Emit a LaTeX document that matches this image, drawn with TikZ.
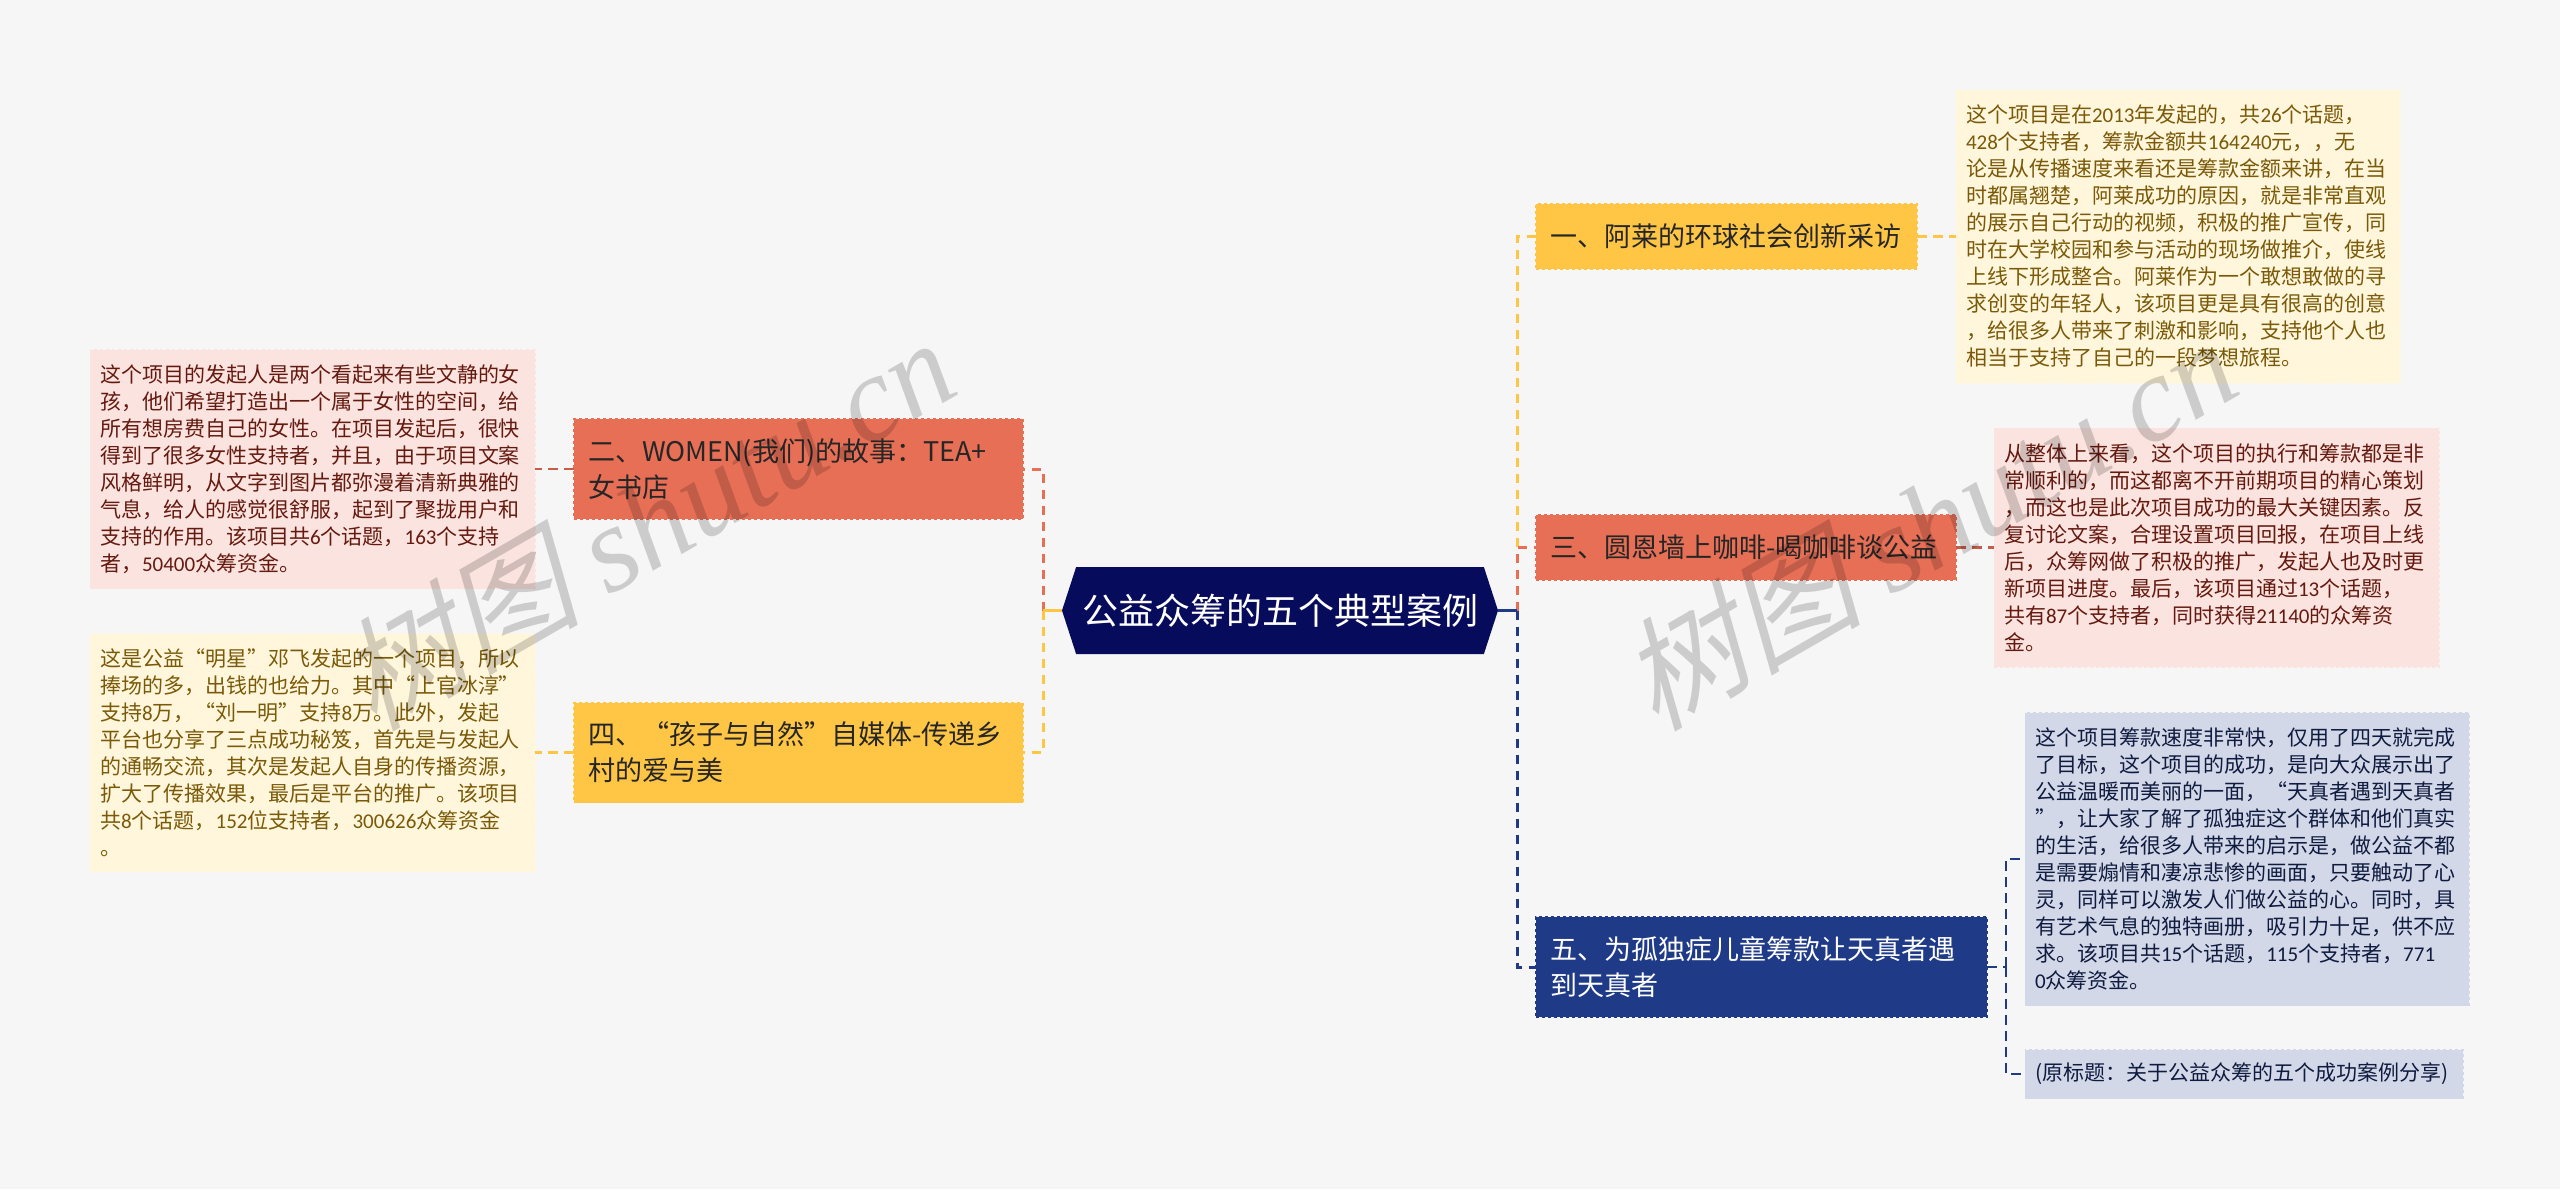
\documentclass[tikz,border=0pt]{standalone}
\usepackage{xcolor}
\usepackage{fontspec}
\setmainfont{Noto Sans CJK SC}
\newfontfamily\markcjk[FakeSlant=0.25]{Noto Sans CJK SC}
\newfontfamily\markserif{Liberation Serif}
\newfontfamily\numfont{Carlito}
\newcommand{\dg}[1]{{\numfont #1}}
\usetikzlibrary{positioning}
\usetikzlibrary{shapes.symbols}
\definecolor{pagegray}{HTML}{F6F6F6}
\definecolor{rootnavy}{HTML}{070B5B}
\definecolor{yel}{HTML}{FFC646}
\definecolor{yellite}{HTML}{FFF6DC}
\definecolor{yeltext}{HTML}{7A5A08}
\definecolor{rd}{HTML}{E76F56}
\definecolor{rdlite}{HTML}{FBE3DF}
\definecolor{rdtext}{HTML}{651A10}
\definecolor{blu}{HTML}{1F3A87}
\definecolor{blulite}{HTML}{D2D8E8}
\definecolor{blutext}{HTML}{0F1B3F}
\tikzset{
    rootbox/.style={signal,signal to=west and east,signal pointer angle=144,fill=rootnavy,text=white,
        minimum width=436,minimum height=87,inner sep=0,outer sep=0,font=\fontsize{36}{44}\selectfont},
    branch/.style={rectangle,dashed,line width=1.5,inner xsep=14,inner ysep=0,outer sep=0,align=left,
        font=\fontsize{27}{36}\selectfont},
    detail/.style={rectangle,dashed,line width=1,inner xsep=10,inner ysep=0,outer sep=0,align=left,
        font=\fontsize{21}{27}\selectfont},
    linkmain/.style={dashed,dash pattern=on 9 off 7,line width=3},
    linksub/.style={dashed,dash pattern=on 10 off 6,line width=2.2},
    stub/.style={line width=3},
    watermark/.style={rotate=30,text=black,opacity=0.17,inner sep=0},
}
\begin{document}
\begin{tikzpicture}[x=1pt,y=-1pt]
    \fill[pagegray] (0,0) rectangle (2560,1189);
    \useasboundingbox (0,0) rectangle (2560,1189);

    \node(root)[rootbox] at (1280,610.5) {公益众筹的五个典型案例};
    \coordinate(rootr) at ([xshift=19]root.east);
    \coordinate(rootl) at ([xshift=-19]root.west);

    % right side
    \node(bone)[branch,anchor=west,draw=yel,fill=yel,text=black!85,text width=353,minimum height=65] at (1536,236.5) {一、阿莱的环球社会创新采访};
    \node(bthree)[branch,anchor=west,draw=rd,fill=rd,text=black!85,text width=392,minimum height=65] at (1536,547.5) {三、圆恩墙上咖啡-喝咖啡谈公益};
    \node(bfive)[branch,anchor=west,draw=blu,fill=blu,text=white,text width=423,minimum height=100] at (1536,967) {五、为孤独症儿童筹款让天真者遇\\到天真者};

    \node(tone)[detail,anchor=west,draw=yellite,fill=yellite,text=yeltext,text width=424,minimum height=293] at ([xshift=39]bone.east) {这个项目是在\dg{2013}年发起的，共\dg{26}个话题，\\\dg{428}个支持者，筹款金额共\dg{164240}元，，无\\论是从传播速度来看还是筹款金额来讲，在当\\时都属翘楚，阿莱成功的原因，就是非常直观\\的展示自己行动的视频，积极的推广宣传，同\\时在大学校园和参与活动的现场做推介，使线\\上线下形成整合。阿莱作为一个敢想敢做的寻\\求创变的年轻人，该项目更是具有很高的创意\\，给很多人带来了刺激和影响，支持他个人也\\相当于支持了自己的一段梦想旅程。};
    \node(tthree)[detail,anchor=west,draw=rdlite,fill=rdlite,text=rdtext,text width=425,minimum height=239] at ([xshift=38]bthree.east) {从整体上来看，这个项目的执行和筹款都是非\\常顺利的，而这都离不开前期项目的精心策划\\，而这也是此次项目成功的最大关键因素。反\\复讨论文案，合理设置项目回报，在项目上线\\后，众筹网做了积极的推广，发起人也及时更\\新项目进度。最后，该项目通过\dg{13}个话题，\\共有\dg{87}个支持者，同时获得\dg{21140}的众筹资\\金。};
    \node(tfive)[detail,anchor=west,draw=blulite,fill=blulite,text=blutext,text width=424,minimum height=293] at ([xshift=38,yshift=108]bfive.east) {这个项目筹款速度非常快，仅用了四天就完成\\了目标，这个项目的成功，是向大众展示出了\\公益温暖而美丽的一面，“天真者遇到天真者\\”，让大家了解了孤独症这个群体和他们真实\\的生活，给很多人带来的启示是，做公益不都\\是需要煽情和凄凉悲惨的画面，只要触动了心\\灵，同样可以激发人们做公益的心。同时，具\\有艺术气息的独特画册，吸引力十足，供不应\\求。该项目共\dg{15}个话题，\dg{115}个支持者，\dg{771}\\\dg{0}众筹资金。};
    \node(tsix)[detail,anchor=west,draw=blulite,fill=blulite,text=blutext,text width=418,minimum height=49] at ([xshift=38,yshift=-107]bfive.east) {(原标题：关于公益众筹的五个成功案例分享)};

    % left side
    \node(btwo)[branch,anchor=east,draw=rd,fill=rd,text=black!85,text width=421,minimum height=100] at (1023,469) {二、WOMEN(我们)的故事：TEA+\\女书店};
    \node(bfour)[branch,anchor=east,draw=yel,fill=yel,text=black!85,text width=421,minimum height=100] at (1023,752.5) {四、“孩子与自然”自媒体-传递乡\\村的爱与美};

    \node(ttwo)[detail,anchor=east,draw=rdlite,fill=rdlite,text=rdtext,text width=425,minimum height=239] at ([xshift=-39]btwo.west) {这个项目的发起人是两个看起来有些文静的女\\孩，他们希望打造出一个属于女性的空间，给\\所有想房费自己的女性。在项目发起后，很快\\得到了很多女性支持者，并且，由于项目文案\\风格鲜明，从文字到图片都弥漫着清新典雅的\\气息，给人的感觉很舒服，起到了聚拢用户和\\支持的作用。该项目共\dg{6}个话题，\dg{163}个支持\\者，\dg{50400}众筹资金。};
    \node(tfour)[detail,anchor=east,draw=yellite,fill=yellite,text=yeltext,text width=425,minimum height=238] at ([xshift=-39]bfour.west) {这是公益“明星”邓飞发起的一个项目，所以\\捧场的多，出钱的也给力。其中“上官冰淳”\\支持\dg{8}万，“刘一明”支持\dg{8}万。此外，发起\\平台也分享了三点成功秘笈，首先是与发起人\\的通畅交流，其次是发起人自身的传播资源，\\扩大了传播效果，最后是平台的推广。该项目\\共\dg{8}个话题，\dg{152}位支持者，\dg{300626}众筹资金\\。};

    \draw[linkmain,yel] (rootr) |- (bone.west);
    \draw[linkmain,rd] (rootr) |- (bthree.west);
    \draw[linkmain,blu] (rootr) |- (bfive.west);
    \draw[linkmain,rd] (rootl) |- (btwo.east);
    \draw[linkmain,yel] (rootl) |- (bfour.east);
    \draw[stub,blu] (root.east)--(rootr);
    \draw[stub,yel] (root.west)--(rootl);

    \draw[linksub,yel] (bone.east)--(tone.west);
    \draw[linksub,rd!85!black] (bthree.east)--(tthree.west);
    \draw[linksub,rd!85!black] (btwo.west)--(ttwo.east);
    \draw[linksub,yel] (bfour.west)--(tfour.east);
    \coordinate(fivej) at ([xshift=19]bfive.east);
    \draw[linksub,blu] (bfive.east)--(fivej);
    \draw[linksub,blu] (fivej) |- (tfive.west);
    \draw[linksub,blu] (fivej) |- (tsix.west);

    \node(markl)[watermark] at (645,522) {\fontsize{122}{122}\selectfont{\markcjk 树图}\ {\markserif\itshape shutu.cn}};
    \node(markr)[watermark] at (1927,522) {\fontsize{122}{122}\selectfont{\markcjk 树图}\ {\markserif\itshape shutu.cn}};
\end{tikzpicture}
\end{document}
